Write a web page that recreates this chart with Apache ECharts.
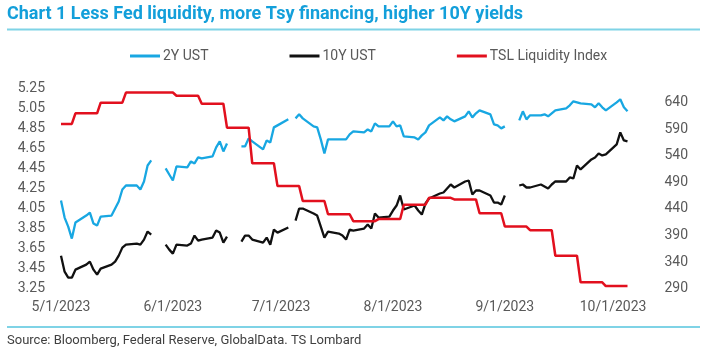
<!DOCTYPE html>
<html>
<head>
<meta charset="utf-8">
<script src="https://cdn.jsdelivr.net/npm/echarts@6/dist/echarts.min.js"></script>
<style>
  html, body { margin: 0; padding: 0; background: #ffffff; }
  #chart { width: 704px; height: 360px; }
</style>
</head>
<body>
<div id="chart"></div>
<script>
// ---------------- data ----------------
const titleText = 'Chart 1 Less Fed liquidity, more Tsy financing, higher 10Y yields';
const sourceText = 'Source: Bloomberg, Federal Reserve, GlobalData. TS Lombard';
const seriesNames = ['2Y UST', '10Y UST', 'TSL Liquidity Index'];

const startDate = '5/1/2023';
const endDate = '10/5/2023';
const xTickLabels = ['5/1/2023', '6/1/2023', '7/1/2023', '8/1/2023', '9/1/2023', '10/1/2023'];
const leftTickMin = 3.25, leftTickMax = 5.25, leftTickStep = 0.2;
const rightTickMin = 290, rightTickStep = 50, rightAxisMax = 667;

// business days 5/1/2023 .. 10/5/2023 (null = US holiday, gap in yields)
const y2 = [
  4.13, 3.96, 3.87, 3.75, 3.91, 3.98, 4.01, 3.90, 3.88, 3.97, 3.98, 4.05, 4.12, 4.24, 4.28,
  4.28, 4.24, 4.32, 4.48, 4.53, null, 4.45, 4.39,
  4.33, 4.47, 4.46, 4.52, 4.50, 4.56, 4.55, 4.57, 4.66, 4.72, 4.62, 4.70,
  null, 4.67, 4.67, 4.75, 4.72, 4.64, 4.73, 4.71, 4.86, 4.88,
  4.94, null, 4.95, 4.99, 4.95, 4.87, 4.86, 4.74, 4.60, 4.74, 4.74, 4.74, 4.74, 4.79, 4.82,
  4.81, 4.84, 4.82, 4.90, 4.87, 4.87,
  4.92, 4.87, 4.88, 4.77, 4.76, 4.74, 4.78, 4.81, 4.88, 4.96, 4.93, 4.97, 4.94, 4.92,
  4.97, 5.02, 4.96, 5.00, 5.03, 4.99, 4.89, 4.88, 4.85,
  4.87, null, 4.93, 5.02, 4.94, 4.98, 4.98, 4.99, 4.97, 5.00, 5.03, 5.05, 5.08, 5.12, 5.11, 5.10,
  5.09, 5.06, 5.10, 5.06, 5.03,
  5.11, 5.14, 5.06, 5.02
];
const y10 = [
  3.58, 3.42, 3.36, 3.36, 3.44, 3.49, 3.52, 3.44, 3.39, 3.45, 3.49, 3.52, 3.58, 3.66, 3.69,
  3.70, 3.69, 3.74, 3.82, 3.79, null, 3.69, 3.64,
  3.60, 3.69, 3.68, 3.70, 3.78, 3.73, 3.74, 3.76, 3.83, 3.81, 3.71, 3.77,
  null, 3.72, 3.78, 3.78, 3.74, 3.71, 3.76, 3.69, 3.84, 3.81,
  3.86, null, 3.93, 4.05, 4.05, 4.00, 3.98, 3.87, 3.76, 3.82, 3.80, 3.78, 3.74, 3.84, 3.83,
  3.85, 3.89, 3.85, 4.00, 3.96, 3.97,
  4.03, 4.08, 4.18, 4.04, 4.08, 4.03, 3.99, 4.10, 4.15, 4.20, 4.21, 4.25, 4.29, 4.26,
  4.32, 4.33, 4.19, 4.23, 4.23, 4.18, 4.11, 4.11, 4.09,
  4.18, null, 4.28, 4.29, 4.26, 4.26, 4.29, 4.27, 4.25, 4.29, 4.32, 4.32, 4.36, 4.35, 4.48, 4.44,
  4.54, 4.56, 4.60, 4.58, 4.59,
  4.69, 4.81, 4.73, 4.72
];
// weekly TSL Liquidity Index (value takes effect on the given Friday)
const tslWeeks = ['4/28/2023', '5/5/2023', '5/12/2023', '5/19/2023', '5/26/2023', '6/2/2023', '6/9/2023',
  '6/16/2023', '6/23/2023', '6/30/2023', '7/7/2023', '7/14/2023', '7/21/2023', '7/28/2023', '8/4/2023',
  '8/11/2023', '8/18/2023', '8/25/2023', '9/1/2023', '9/8/2023', '9/15/2023', '9/22/2023', '9/29/2023'];
const tslValues = [600, 620, 640, 659, 659, 653, 638, 593, 526, 483, 455, 430, 417, 421, 448,
  461, 458, 432, 407, 400, 352, 302, 295];

// ---------------- helpers ----------------
function toUTC(s) { const p = s.split('/').map(Number); return Date.UTC(p[2], p[0] - 1, p[1]); }
const DAY = 86400000;
const t0 = toUTC(startDate), t1 = toUTC(endDate);
const businessDays = [];
for (let t = t0; t <= t1; t += DAY) {
  const wd = new Date(t).getUTCDay();
  if (wd !== 0 && wd !== 6) businessDays.push(t);
}
const dayOf = t => Math.round((t - t0) / DAY);
const fmtDate = t => { const d = new Date(t); return (d.getUTCMonth() + 1) + '/' + d.getUTCDate() + '/' + d.getUTCFullYear(); };

const d2 = businessDays.map((t, i) => [dayOf(t), y2[i] == null ? '-' : y2[i]]);
const d10 = businessDays.map((t, i) => [dayOf(t), y10[i] == null ? '-' : y10[i]]);
const weekT = tslWeeks.map(toUTC);
const dTsl = businessDays.map(t => {
  let v = tslValues[0];
  for (let k = 0; k < weekT.length; k++) if (weekT[k] <= t) v = tslValues[k];
  return [dayOf(t), v];
});
const xTickPos = xTickLabels.map(s => dayOf(toUTC(s)));

// title width fitting (condensed look)
const FONT = 'Roboto, "Noto Sans", sans-serif';
const cv = document.createElement('canvas').getContext('2d');
cv.font = 'bold 18px Roboto';
const titleScale = 516 / cv.measureText(titleText).width;

const BLUE = '#18a7e2', BLACK = '#111111', RED = '#e2101e', GREY = '#595959';

const chart = echarts.init(document.getElementById('chart'), null, { renderer: 'canvas' });
chart.setOption({
  animation: false,
  backgroundColor: '#ffffff',
  textStyle: { fontFamily: FONT },
  grid: { left: 61, right: 76.5, top: 88.3, bottom: 71.3, containLabel: false },
  legend: {
    data: seriesNames,
    left: 130, top: 49, padding: 0,
    itemWidth: 30, itemHeight: 3, itemGap: 81,
    icon: 'rect',
    textStyle: { fontSize: 14, color: GREY, fontFamily: FONT, padding: [0, 0, 0, -2] }
  },
  xAxis: {
    type: 'value', min: 0, max: dayOf(t1),
    axisLine: { show: false }, axisTick: { show: false }, splitLine: { show: false },
    axisLabel: {
      customValues: xTickPos,
      formatter: v => fmtDate(t0 + v * DAY),
      fontSize: 14, color: GREY, margin: 12, fontFamily: FONT
    }
  },
  yAxis: [
    {
      type: 'value', min: leftTickMin, max: leftTickMax, interval: leftTickStep,
      axisLine: { show: false }, axisTick: { show: false }, splitLine: { show: false },
      axisLabel: { formatter: v => v.toFixed(2), fontSize: 14, color: GREY, margin: 16, fontFamily: FONT }
    },
    {
      type: 'value', min: rightTickMin, max: rightAxisMax, interval: rightTickStep,
      axisLine: { show: false }, axisTick: { show: false }, splitLine: { show: false },
      axisLabel: { showMaxLabel: false, fontSize: 14, color: GREY, margin: 37, fontFamily: FONT }
    }
  ],
  series: [
    { name: seriesNames[0], type: 'line', yAxisIndex: 0, data: d2, showSymbol: false, connectNulls: false,
      lineStyle: { width: 2.3, color: BLUE }, itemStyle: { color: BLUE } },
    { name: seriesNames[1], type: 'line', yAxisIndex: 0, data: d10, showSymbol: false, connectNulls: false,
      lineStyle: { width: 2.3, color: BLACK }, itemStyle: { color: BLACK } },
    { name: seriesNames[2], type: 'line', yAxisIndex: 1, data: dTsl, showSymbol: false,
      lineStyle: { width: 2.5, color: RED }, itemStyle: { color: RED } }
  ],
  graphic: [
    { type: 'text', left: 7, top: 5, scaleX: titleScale,
      style: { text: titleText, font: 'bold 18px Roboto', fill: '#139fda' } },
    { type: 'line', shape: { x1: 7, y1: 29.5, x2: 700, y2: 29.5 }, style: { stroke: '#7fd3e6', lineWidth: 2 } },
    { type: 'line', shape: { x1: 7, y1: 327, x2: 700, y2: 327 }, style: { stroke: '#7fd3e6', lineWidth: 2 } },
    { type: 'text', left: 7, top: 334, style: { text: sourceText, font: '13px Roboto', fill: '#404040' } }
  ]
});
</script>
</body>
</html>
